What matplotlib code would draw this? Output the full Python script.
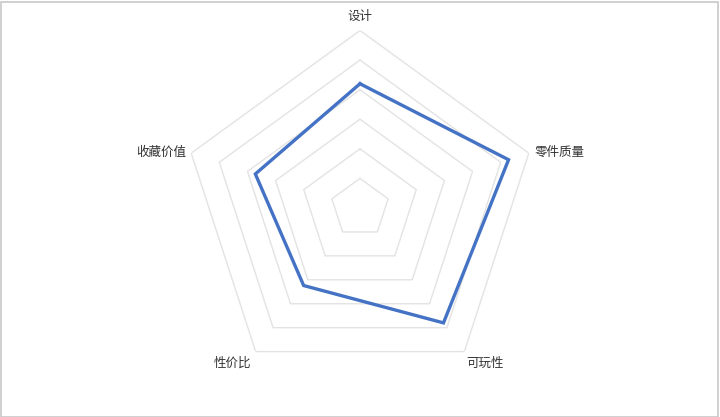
import numpy as np
import matplotlib
matplotlib.use("Agg")
import matplotlib.pyplot as plt
from matplotlib.patches import Rectangle

plt.rcParams['font.family'] = ['Noto Sans CJK SC', 'DejaVu Sans']

categories = ['设计', '零件质量', '可玩性', '性价比', '收藏价值']
values = [7.0, 8.8, 8.0, 5.4, 6.2]
max_value = 10
ring_levels = [10/6, 20/6, 30/6, 40/6, 50/6, 10]

label_offsets = [(0, 14, 'center', 'center'),
                 (6, 1, 'left', 'center'),
                 (2, -12, 'left', 'center'),
                 (-4, -12, 'right', 'center'),
                 (-5, 1, 'right', 'center')]

W, H = 720, 417
fig = plt.figure(figsize=(W/100, H/100), dpi=100)
fig.patch.set_facecolor('white')
fig.patches.append(Rectangle((0.5/W, 0.5/H), 1 - 2.5/W, 1 - 2.5/H, transform=fig.transFigure,
                             fill=False, edgecolor='#c8c8c8', linewidth=1.2))

R = 177.5
cx, cy = 360, 208
ax = fig.add_axes([(cx - R)/W, (H - cy - R)/H, 2*R/W, 2*R/H], projection='polar')
ax.set_theta_offset(np.pi/2)
ax.set_theta_direction(-1)
ax.set_ylim(0, max_value)
ax.grid(False)
ax.spines['polar'].set_visible(False)
ax.set_xticks([])
ax.set_yticks([])
ax.set_facecolor('none')

n = len(categories)
angles = np.linspace(0, 2*np.pi, n, endpoint=False)
ang_closed = np.concatenate([angles, angles[:1]])

for lv in ring_levels:
    ax.plot(ang_closed, [lv]*(n+1), color='#e3e3e3', linewidth=1.0, zorder=1)

vals_closed = values + values[:1]
ax.plot(ang_closed, vals_closed, color='#4472c4', linewidth=2.4, zorder=3,
        solid_joinstyle='miter')

for a, lab, (dx, dy, ha, va) in zip(angles, categories, label_offsets):
    ax.annotate(lab, xy=(a, max_value), xytext=(dx*0.72, dy*0.72), textcoords='offset points',
                ha=ha, va=va, fontsize=9, color='#333333')

fig.savefig('out.png', dpi=100, facecolor='white')
